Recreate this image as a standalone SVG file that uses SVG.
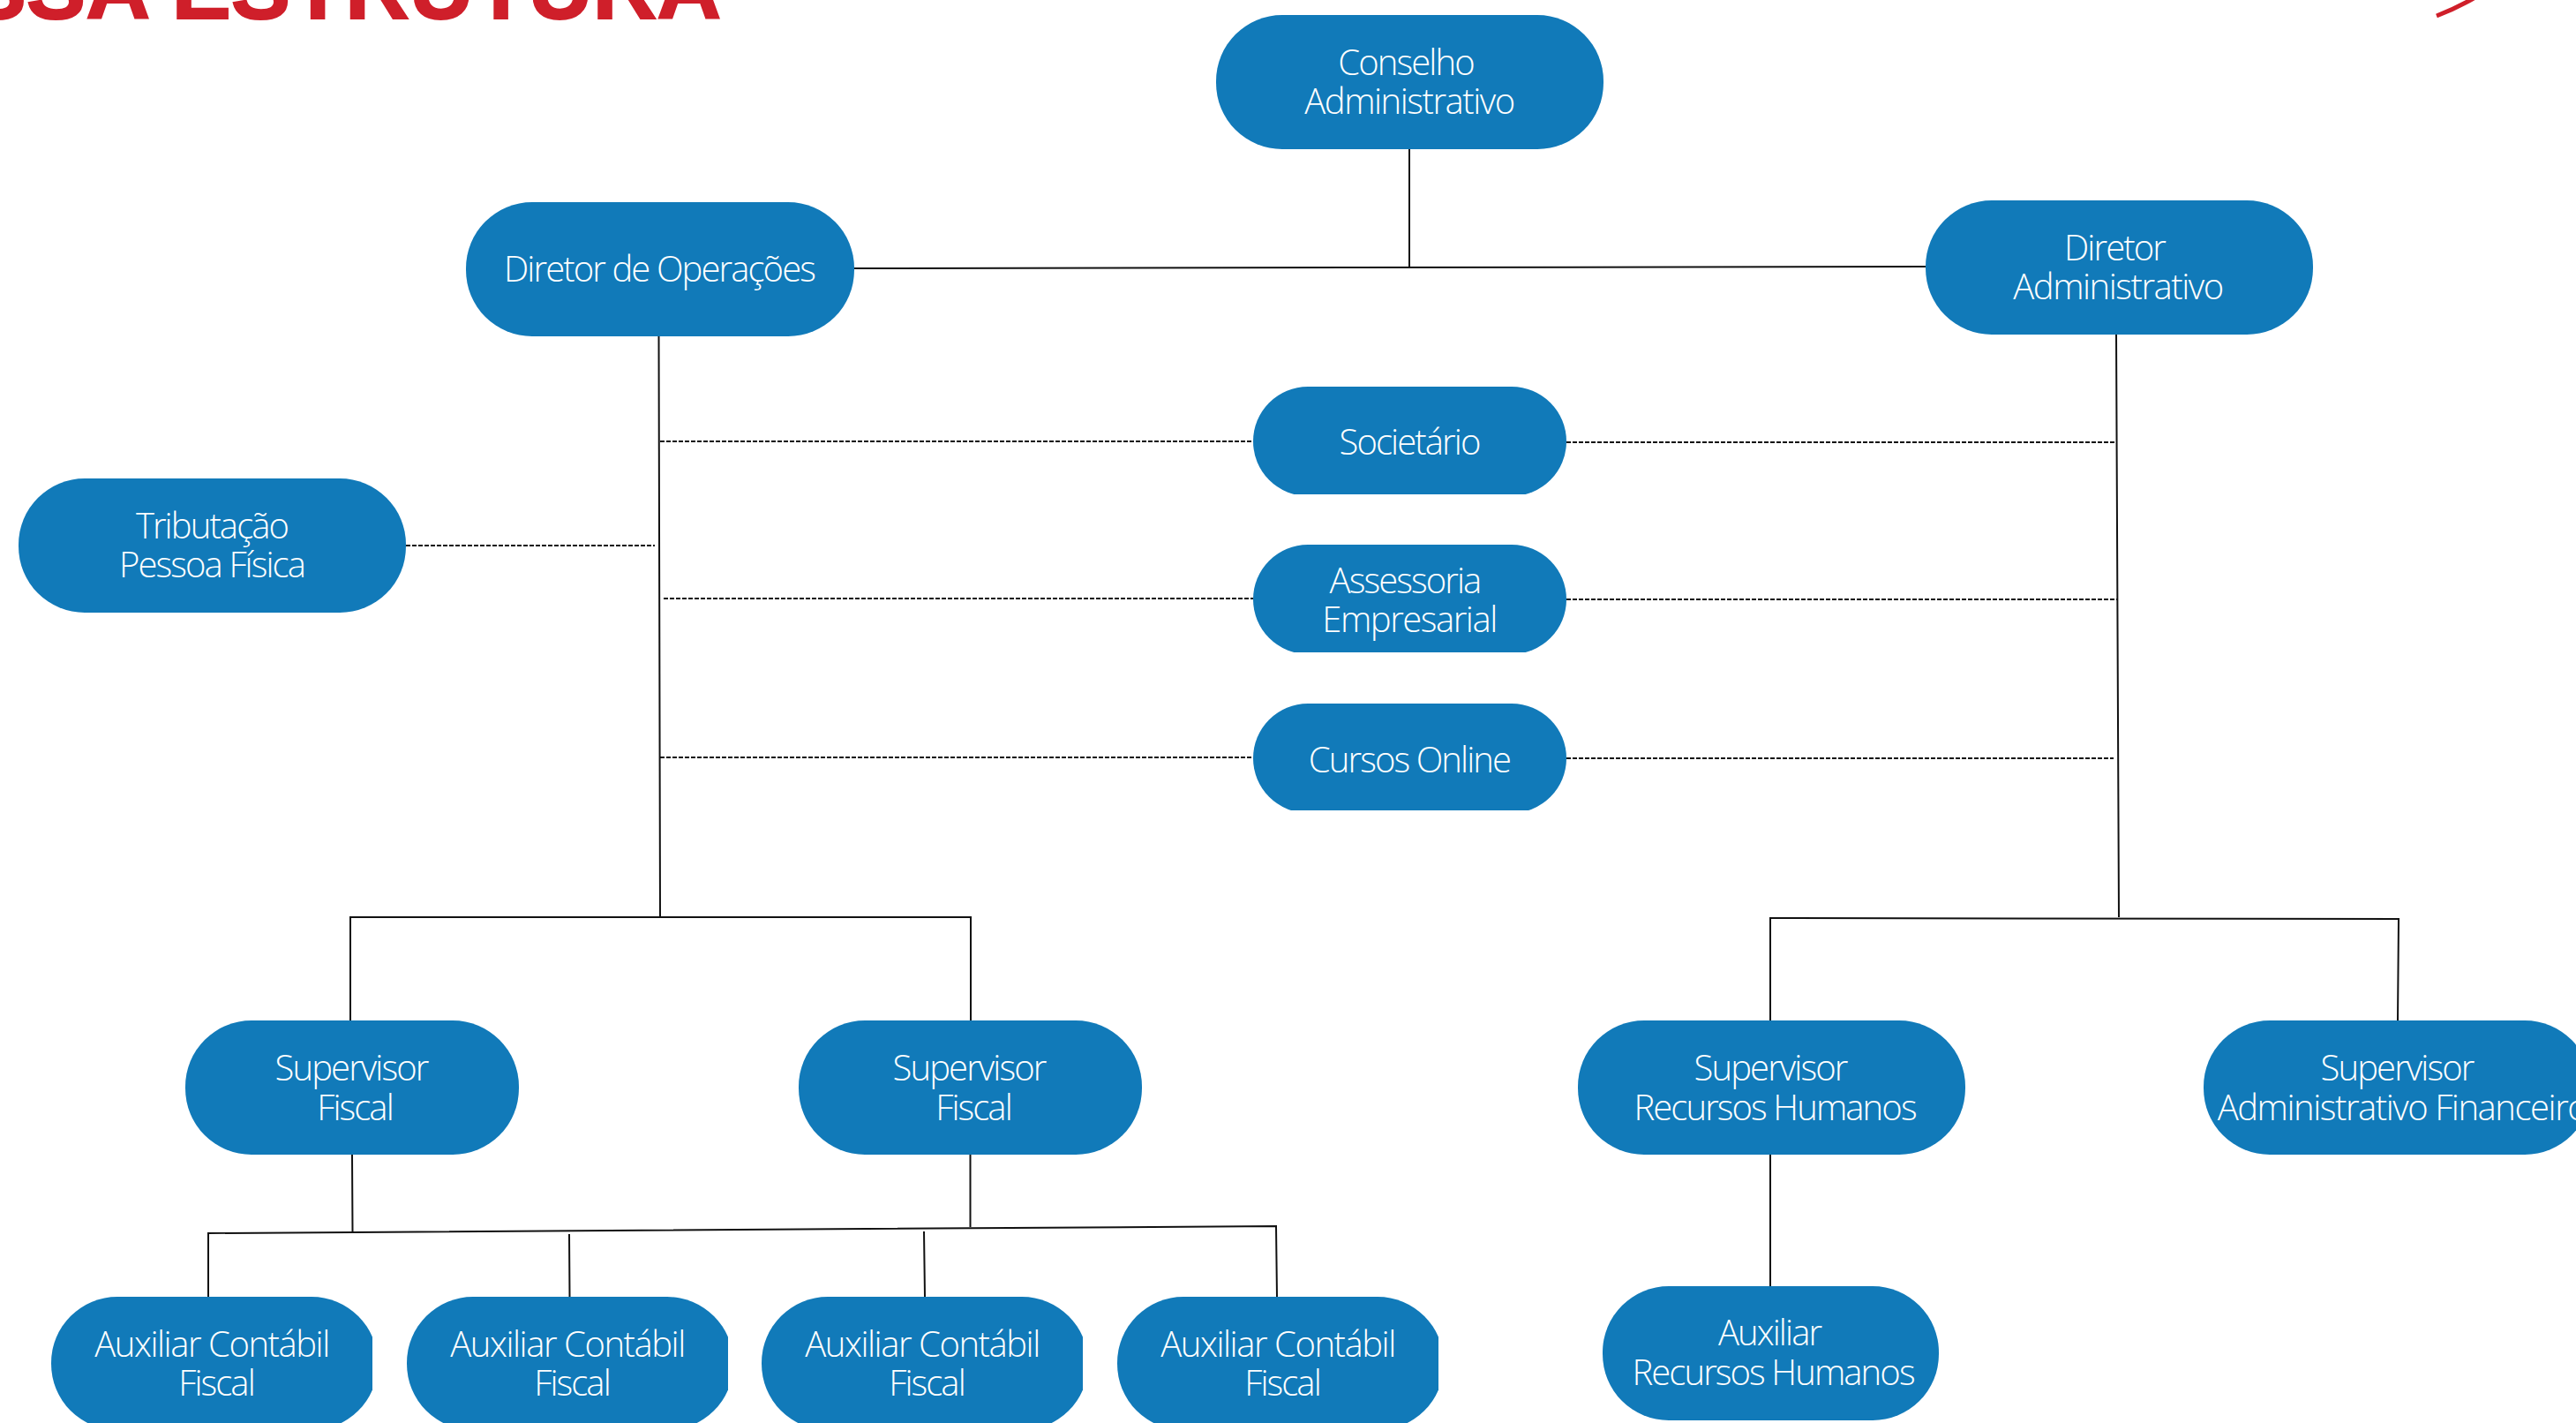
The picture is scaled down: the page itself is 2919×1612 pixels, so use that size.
<svg xmlns="http://www.w3.org/2000/svg" width="2919" height="1612" viewBox="0 0 2919 1612">
<style>
.n{fill:#117ab9}
.t{font-family:"Open Sans","Noto Sans",sans-serif;font-size:40px;font-weight:300;fill:#fff;text-anchor:middle;letter-spacing:-1.9px}
.w{letter-spacing:-1.45px}
.c{fill:none;stroke:#111;stroke-width:2}
.d{fill:none;stroke:#111;stroke-width:2;stroke-dasharray:5 2}
.title{font-family:"Liberation Sans",Arial,sans-serif;font-size:101px;font-weight:700;fill:#cf1f2a;stroke:#cf1f2a;stroke-width:2}
</style>
<defs>
<clipPath id="c1"><rect x="1400" y="430" width="400" height="130"/></clipPath>
<clipPath id="c2"><rect x="1400" y="610" width="400" height="129"/></clipPath>
<clipPath id="c3"><rect x="1400" y="790" width="400" height="128"/></clipPath>
<clipPath id="a1"><rect x="40" y="1460" width="382" height="160"/></clipPath>
<clipPath id="a2"><rect x="450" y="1460" width="375" height="160"/></clipPath>
<clipPath id="a3"><rect x="850" y="1460" width="377" height="160"/></clipPath>
<clipPath id="a4"><rect x="1250" y="1460" width="380" height="160"/></clipPath>
</defs>
<rect width="2919" height="1612" fill="#fff"/>
<g id="decor">
<text class="title" x="-189" y="21">NOSSA ESTRUTURA</text>
<path d="M2761 18Q2782 10 2803 -2" fill="none" stroke="#cf1f2a" stroke-width="5"/>
</g>
<g id="connectors">
<path class="c" d="M1597 168V303M967 304L2182 302M746.500 380L748 1039M397 1156V1039H1100V1156M2398 378L2401 1039M2006 1156V1040L2718 1041L2717 1156M399 1308L399.500 1395M1099.500 1308V1390M236 1469V1397L1446 1389L1447 1469M645 1398L645.500 1469M1047 1395L1048 1469M2006 1308V1457"/>
<path class="d" d="M748 500H1420M1775 501H2398M460 618H742M752 678H1420M1775 679H2400M748 858H1420M1775 859H2395"/>
</g>
<g id="conselho"><rect class="n" x="1378" y="17" width="439" height="152" rx="75"/><text class="t" x="1593" y="85">Conselho</text><text class="t w" x="1597" y="129">Administrativo</text></g>
<g id="diretor-operacoes"><rect class="n" x="528" y="229" width="440" height="152" rx="75"/><text class="t" x="747" y="319">Diretor de Operações</text></g>
<g id="diretor-administrativo"><rect class="n" x="2182" y="227" width="439" height="152" rx="75"/><text class="t" x="2396" y="295">Diretor</text><text class="t w" x="2400" y="339">Administrativo</text></g>
<g id="tributacao"><rect class="n" x="21" y="542" width="439" height="152" rx="75"/><text class="t" x="240" y="610">Tributação</text><text class="t" x="240" y="654">Pessoa Física</text></g>
<g id="societario"><rect class="n" x="1420" y="438" width="355" height="124" rx="62" clip-path="url(#c1)"/><text class="t" x="1597" y="515">Societário</text></g>
<g id="assessoria"><rect class="n" x="1420" y="617" width="355" height="124" rx="62" clip-path="url(#c2)"/><text class="t" x="1592" y="672">Assessoria</text><text class="t w" x="1597" y="716">Empresarial</text></g>
<g id="cursos"><rect class="n" x="1420" y="797" width="355" height="124" rx="62" clip-path="url(#c3)"/><text class="t" x="1597" y="875">Cursos Online</text></g>
<g id="supervisor-fiscal-1"><rect class="n" x="210" y="1156" width="378" height="152" rx="75"/><text class="t" x="398" y="1224">Supervisor</text><text class="t" x="402" y="1269">Fiscal</text></g>
<g id="supervisor-fiscal-2"><rect class="n" x="905" y="1156" width="389" height="152" rx="75"/><text class="t" x="1098" y="1224">Supervisor</text><text class="t" x="1103" y="1269">Fiscal</text></g>
<g id="supervisor-rh"><rect class="n" x="1788" y="1156" width="439" height="152" rx="75"/><text class="t" x="2006" y="1224">Supervisor</text><text class="t" x="2011" y="1269">Recursos Humanos</text></g>
<g id="supervisor-adm"><rect class="n" x="2497" y="1156" width="439" height="152" rx="75"/><text class="t" x="2716" y="1224">Supervisor</text><text class="t w" x="2722" y="1269">Administrativo Financeiro</text></g>
<g id="auxiliar-1"><rect class="n" x="58" y="1469" width="370" height="151" rx="75" clip-path="url(#a1)"/><text class="t w" x="240" y="1537">Auxiliar Contábil</text><text class="t" x="245" y="1581">Fiscal</text></g>
<g id="auxiliar-2"><rect class="n" x="461" y="1469" width="370" height="151" rx="75" clip-path="url(#a2)"/><text class="t w" x="643" y="1537">Auxiliar Contábil</text><text class="t" x="648" y="1581">Fiscal</text></g>
<g id="auxiliar-3"><rect class="n" x="863" y="1469" width="370" height="151" rx="75" clip-path="url(#a3)"/><text class="t w" x="1045" y="1537">Auxiliar Contábil</text><text class="t" x="1050" y="1581">Fiscal</text></g>
<g id="auxiliar-4"><rect class="n" x="1266" y="1469" width="370" height="151" rx="75" clip-path="url(#a4)"/><text class="t w" x="1448" y="1537">Auxiliar Contábil</text><text class="t" x="1453" y="1581">Fiscal</text></g>
<g id="auxiliar-rh"><rect class="n" x="1816" y="1457" width="381" height="152" rx="75"/><text class="t" x="2005" y="1524">Auxiliar</text><text class="t" x="2009" y="1569">Recursos Humanos</text></g>
</svg>
